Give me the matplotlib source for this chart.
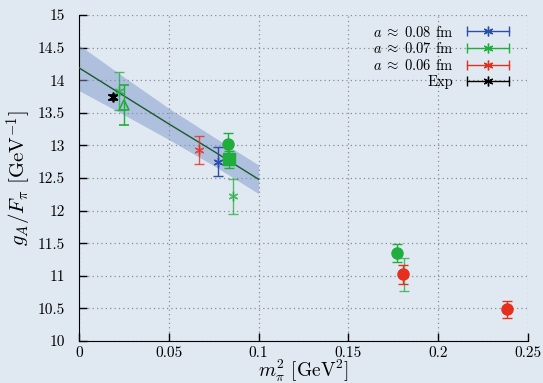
import matplotlib
matplotlib.use("Agg")
import matplotlib.pyplot as plt
from matplotlib.lines import Line2D
from matplotlib.legend_handler import HandlerBase
from matplotlib.ticker import FormatStrFormatter, MultipleLocator

plt.rcParams['font.family'] = 'cmr10'
plt.rcParams['mathtext.fontset'] = 'cm'
plt.rcParams['axes.formatter.use_mathtext'] = True

# a ~ 0.08 fm
blue_x = [0.0774]
blue_y = [12.75]
blue_e = [0.22]

# a ~ 0.07 fm
green_star_x = [0.0223, 0.0859, 0.1810]
green_star_y = [13.83, 12.22, 11.02]
green_star_e = [0.29, 0.27, 0.25]
green_circ_x = [0.0828, 0.1772]
green_circ_y = [13.02, 11.35]
green_circ_e = [0.17, 0.14]
green_sq_x = [0.0833]
green_sq_y = [12.79]
green_sq_e = [0.13]
green_tri_x = [0.0252]
green_tri_y = [13.62]
green_tri_e = [0.30]

# a ~ 0.06 fm
red_star_x = [0.0668]
red_star_y = [12.93]
red_star_e = [0.21]
red_circ_x = [0.1806, 0.2385]
red_circ_y = [11.02, 10.49]
red_circ_e = [0.14, 0.13]

# experiment
exp_x = [0.0187]
exp_y = [13.74]
exp_e = [0.04]

# linear fit and its error band
fit_x = [0.0, 0.025, 0.05, 0.075, 0.1]
fit_y = [14.19, 13.76, 13.33, 12.91, 12.48]
fit_err = [0.35, 0.29, 0.24, 0.22, 0.22]

labels = [r'$a\;\approx\;0.08$ fm', r'$a\;\approx\;0.07$ fm', r'$a\;\approx\;0.06$ fm', 'Exp']

bg = '#e0e9f2'
c_blue = '#2a4fa8'
c_green = '#1fae3c'
c_red = '#e6301e'
c_black = '#000000'
star = (6, 2, 0)


class CapHandler(HandlerBase):
    def create_artists(self, legend, orig_handle, xdescent, ydescent,
                       width, height, fontsize, trans):
        c = orig_handle.get_color()
        y = height / 2 - ydescent
        x0, x1 = -xdescent, width - xdescent
        bar = Line2D([x0, x1], [y, y], color=c, lw=1)
        caps = Line2D([x0, x1], [y, y], ls='none', marker='|', ms=7, mew=1, color=c)
        mk = Line2D([(x0 + x1) / 2], [y], ls='none', marker=star, ms=7, mew=1, color=c)
        for a in (bar, caps, mk):
            a.set_transform(trans)
        return [bar, caps, mk]


fig = plt.figure(figsize=(5.43, 3.83), dpi=100, facecolor=bg)
ax = fig.add_axes([0.1455, 0.1097, 0.8269, 0.8511], facecolor=bg)

lo = [y - e for y, e in zip(fit_y, fit_err)]
hi = [y + e for y, e in zip(fit_y, fit_err)]
ax.fill_between(fit_x, lo, hi, color='#7f97cb', alpha=0.5, lw=0, zorder=2)
ax.plot(fit_x, fit_y, color='#1b5a2a', lw=1, zorder=3)

eb = dict(ls='none', capsize=3.5, elinewidth=1, capthick=1, zorder=4)
ax.errorbar(blue_x, blue_y, yerr=blue_e, color=c_blue, marker=star, ms=7, mew=1, **eb)
ax.errorbar(green_star_x, green_star_y, yerr=green_star_e, color=c_green, alpha=0.75,
            marker=star, ms=7, mew=1, **eb)
ax.errorbar(green_tri_x, green_tri_y, yerr=green_tri_e, color=c_green, marker='^',
            mfc='none', ms=7, mew=1.2, **eb)
ax.errorbar(green_circ_x, green_circ_y, yerr=green_circ_e, color=c_green, marker='o', ms=8, **eb)
ax.errorbar(green_sq_x, green_sq_y, yerr=green_sq_e, color=c_green, marker='s', ms=8, **eb)
ax.errorbar(red_star_x, red_star_y, yerr=red_star_e, color=c_red, alpha=0.8,
            marker=star, ms=7, mew=1, **eb)
ax.errorbar(red_circ_x, red_circ_y, yerr=red_circ_e, color=c_red, marker='o', ms=8, **eb)
ax.errorbar(exp_x, exp_y, yerr=exp_e, color=c_black, marker=star, ms=7, mew=1.2, **eb)

ax.set_xlim(0, 0.25)
ax.set_ylim(10, 15)
ax.xaxis.set_major_locator(MultipleLocator(0.05))
ax.yaxis.set_major_locator(MultipleLocator(0.5))
ax.xaxis.set_major_formatter(FormatStrFormatter('%g'))
ax.yaxis.set_major_formatter(FormatStrFormatter('%g'))
ax.tick_params(direction='in', length=5.5, width=1, labelsize=11, top=False, right=False)
ax.tick_params(axis='y', pad=10)
ax.tick_params(axis='x', pad=3.5)

ax.grid(True, color='#8c8c8c', ls=(0, (1, 2.5)), lw=0.9)
ax.set_axisbelow(True)
for s in ('top', 'right'):
    ax.spines[s].set_visible(False)

ax.set_xlabel(r'$m_\pi^2$ [GeV$^2$]', fontsize=14, labelpad=-1)
ax.set_ylabel(r'$g_A/F_\pi$ [GeV$^{-1}$]', fontsize=15, labelpad=3)

proxies = [Line2D([], [], color=c) for c in (c_blue, c_green, c_red, c_black)]
ax.legend(proxies, labels, handler_map={Line2D: CapHandler()}, loc='upper right',
          bbox_to_anchor=(0.974, 0.993), frameon=False, markerfirst=False,
          fontsize=10.5, handlelength=2.9, labelspacing=0.12, borderpad=0,
          handletextpad=0.9)

fig.savefig('out.png', dpi=100, facecolor=bg)
